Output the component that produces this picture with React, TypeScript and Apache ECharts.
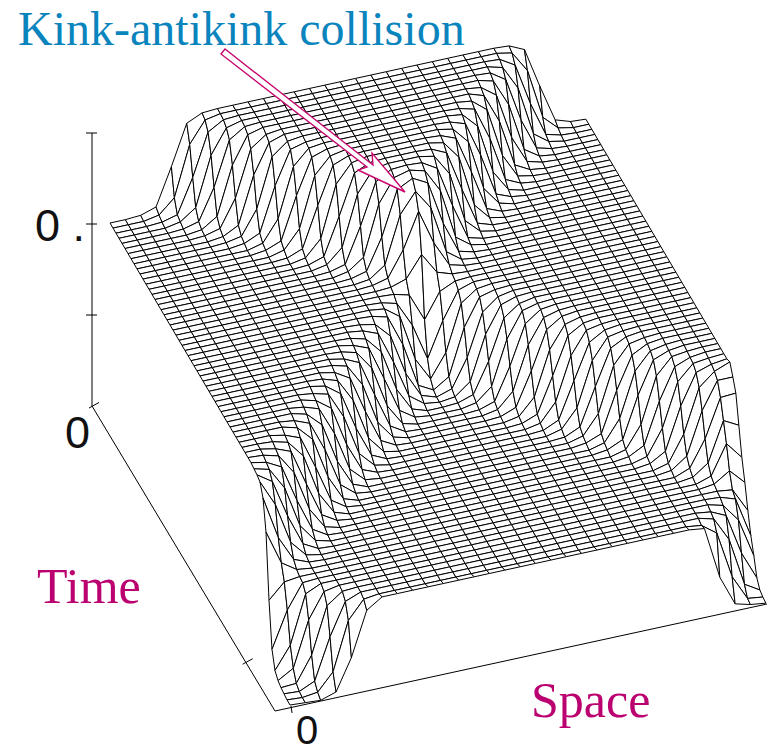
import React, { useEffect, useRef } from "react";
import * as echarts from "echarts";

// Height of the surface, one list per time step (back to front), 32 space samples each.
const heights: number[][] = [
[178,178,179,184,221,261,268,269,269,269,269,269,269,269,269,269,269,269,269,269,269,269,269,269,269,269,268,261,221,184,179,178],
[178,178,178,181,195,245,266,269,269,269,269,269,269,269,269,269,269,269,269,269,269,269,269,269,269,269,266,245,195,181,178,178],
[178,178,178,179,183,217,259,268,269,269,269,269,269,269,269,269,269,269,269,269,269,269,269,269,269,268,259,217,183,179,178,178],
[178,178,178,178,181,192,241,265,269,269,269,269,269,269,269,269,269,269,269,269,269,269,269,269,269,265,241,192,181,178,178,178],
[178,178,178,178,179,183,214,258,268,269,269,269,269,269,269,269,269,269,269,269,269,269,269,269,268,258,214,183,179,178,178,178],
[178,178,178,178,178,180,190,238,265,269,269,269,269,269,269,269,269,269,269,269,269,269,269,269,265,238,190,180,178,178,178,178],
[178,178,178,178,178,179,183,210,256,267,269,269,269,269,269,269,269,269,269,269,269,269,269,267,256,210,183,179,178,178,178,178],
[178,178,178,178,178,178,180,188,235,264,269,269,269,269,269,269,269,269,269,269,269,269,269,264,235,188,180,178,178,178,178,178],
[178,178,178,178,178,178,179,182,206,255,267,269,269,269,269,269,269,269,269,269,269,269,267,255,206,182,179,178,178,178,178,178],
[178,178,178,178,178,178,178,180,187,231,264,268,269,269,269,269,269,269,269,269,269,268,264,231,187,180,178,178,178,178,178,178],
[178,178,178,178,178,178,178,178,182,203,252,267,269,269,269,269,269,269,269,269,269,267,252,203,182,178,178,178,178,178,178,178],
[178,178,178,178,178,178,178,178,180,186,228,263,268,269,269,269,269,269,269,269,268,263,228,186,180,178,178,178,178,178,178,178],
[178,178,178,178,178,178,178,178,178,182,200,250,266,269,269,269,269,269,269,269,266,250,200,182,178,178,178,178,178,178,178,178],
[178,178,178,178,178,178,178,178,178,179,185,225,262,268,269,269,269,269,269,268,262,225,185,179,178,178,178,178,178,178,178,178],
[178,178,178,178,178,178,178,178,178,178,181,197,248,266,269,269,269,269,269,266,248,197,181,178,178,178,178,178,178,178,178,178],
[178,178,178,178,178,178,178,178,178,178,179,184,221,261,268,269,269,269,268,261,221,184,179,178,178,178,178,178,178,178,178,178],
[178,178,178,178,178,178,178,178,178,178,178,181,195,245,266,269,269,269,266,245,195,181,178,178,178,178,178,178,178,178,178,178],
[178,178,178,178,178,178,178,178,178,178,178,179,183,218,259,268,269,268,259,218,183,179,178,178,178,178,178,178,178,178,178,178],
[178,178,178,178,178,178,178,178,178,178,178,178,181,192,242,265,269,265,242,192,181,178,178,178,178,178,178,178,178,178,178,178],
[178,178,178,178,178,178,178,178,178,178,178,178,179,183,214,258,266,258,214,183,179,178,178,178,178,178,178,178,178,178,178,178],
[178,178,178,178,178,178,178,178,178,178,178,178,178,180,191,238,258,238,191,180,178,178,178,178,178,178,178,178,178,178,178,178],
[178,178,178,178,178,178,178,178,178,178,178,178,178,179,183,208,243,208,183,179,178,178,178,178,178,178,178,178,178,178,178,178],
[178,178,178,178,178,178,178,178,178,178,178,178,178,178,179,184,205,184,179,178,178,178,178,178,178,178,178,178,178,178,178,178],
[178,178,178,178,178,178,178,178,178,178,178,178,178,178,177,173,145,170,177,178,178,178,178,178,178,178,178,178,178,178,178,178],
[178,178,178,178,178,178,178,178,178,178,178,178,178,177,173,148,111,146,173,178,178,178,178,178,178,178,178,178,178,178,178,178],
[178,178,178,178,178,178,178,178,178,178,178,178,178,176,165,119,96,119,165,176,178,178,178,178,178,178,178,178,178,178,178,178],
[178,178,178,178,178,178,178,178,178,178,178,178,177,173,142,98,90,100,146,173,177,178,178,178,178,178,178,178,178,178,178,178],
[178,178,178,178,178,178,178,178,178,178,178,177,174,159,118,93,88,93,121,163,175,178,178,178,178,178,178,178,178,178,178,178],
[178,178,178,178,178,178,178,178,178,178,178,176,170,138,101,90,88,90,102,146,172,177,178,178,178,178,178,178,178,178,178,178],
[178,178,178,178,178,178,178,178,178,178,177,173,157,116,93,88,88,89,94,124,164,175,178,178,178,178,178,178,178,178,178,178],
[178,178,178,178,178,178,178,178,178,178,175,169,135,100,90,88,88,88,91,104,148,173,177,178,178,178,178,178,178,178,178,178],
[178,178,178,178,178,178,178,178,178,177,173,154,113,92,88,88,88,88,89,94,126,165,176,178,178,178,178,178,178,178,178,178],
[178,178,178,178,178,178,178,178,178,175,168,132,98,89,88,88,88,88,88,91,106,149,173,177,178,178,178,178,178,178,178,178],
[178,178,178,178,178,178,178,178,177,173,151,110,92,88,88,88,88,88,88,89,95,128,166,176,178,178,178,178,178,178,178,178],
[178,178,178,178,178,178,178,178,175,166,129,97,89,88,88,88,88,88,88,88,91,107,151,173,177,178,178,178,178,178,178,178],
[178,178,178,178,178,178,178,177,172,149,108,91,88,88,88,88,88,88,88,88,89,95,130,167,176,178,178,178,178,178,178,178],
[178,178,178,178,178,178,178,175,164,126,96,89,88,88,88,88,88,88,88,88,88,91,109,152,174,177,178,178,178,178,178,178],
[178,178,178,178,178,178,176,172,146,106,91,88,88,88,88,88,88,88,88,88,88,89,96,132,167,176,178,178,178,178,178,178],
[178,178,178,178,178,178,174,163,123,95,89,88,88,88,88,88,88,88,88,88,88,88,92,110,154,174,177,178,178,178,178,178],
[178,178,178,178,178,176,171,143,104,90,88,88,88,88,88,88,88,88,88,88,88,88,89,96,133,168,176,178,178,178,178,178],
[178,178,178,178,178,174,160,120,94,88,88,88,88,88,88,88,88,88,88,88,88,88,88,92,111,156,174,177,178,178,178,178],
[178,178,178,178,176,170,140,102,90,88,88,88,88,88,88,88,88,88,88,88,88,88,88,90,96,136,168,176,178,178,178,178],
[178,178,178,178,174,159,118,93,88,88,88,88,88,88,88,88,88,88,88,88,88,88,88,88,92,113,157,174,177,178,178,178],
[178,178,178,175,169,136,100,90,88,88,88,88,88,88,88,88,88,88,88,88,88,88,88,88,90,97,138,170,176,178,178,178],
[178,178,177,173,156,115,93,88,88,88,88,88,88,88,88,88,88,88,88,88,88,88,88,88,88,92,114,159,175,177,178,178],
[178,178,175,169,133,99,90,88,88,88,88,88,88,88,88,88,88,88,88,88,88,88,88,88,88,90,98,139,170,176,178,178],
[178,177,173,153,113,92,88,88,88,88,88,88,88,88,88,88,88,88,88,88,88,88,88,88,88,88,92,117,160,175,177,178],
[178,175,167,130,98,89,88,88,88,88,88,88,88,88,88,88,88,88,88,88,88,88,88,88,88,88,90,99,141,171,176,178],
[177,173,151,110,92,88,88,88,88,88,88,88,88,88,88,88,88,88,88,88,88,88,88,88,88,88,88,92,118,161,174,180],
[176,166,128,97,89,88,88,88,88,88,88,88,88,88,88,88,88,88,88,88,88,88,88,88,88,88,88,90,101,143,170,170],
[174,148,107,91,88,88,88,88,88,88,88,88,88,88,88,88,88,88,88,88,88,88,88,88,88,88,88,88,94,120,158,159],
[163,120,95,89,88,88,88,88,88,88,88,88,88,88,88,88,88,88,88,88,88,88,88,88,88,88,88,88,90,101,140,132],
[134,100,90,88,88,88,88,88,88,88,88,88,88,88,88,88,88,88,88,88,88,88,88,88,88,88,88,88,88,93,122,105],
[71,86,88,88,88,88,88,88,88,88,88,88,88,88,88,88,88,88,88,88,88,88,88,88,88,88,88,88,88,90,100,85],
[27,63,87,88,88,88,88,88,88,88,88,88,88,88,88,88,88,88,88,88,88,88,88,88,88,88,88,88,88,88,86,62],
[11,33,81,88,88,88,88,88,88,88,88,88,88,88,88,88,88,88,88,88,88,88,88,88,88,88,88,88,88,87,82,42],
[6,15,60,85,88,88,88,88,88,88,88,88,88,88,88,88,88,88,88,88,88,88,88,88,88,88,88,88,88,84,66,27],
[4,5,30,76,87,88,88,88,88,88,88,88,88,88,88,88,88,88,88,88,88,88,88,88,88,88,88,88,86,79,38,10],
[3,2,9,50,82,88,88,88,88,88,88,88,88,88,88,88,88,88,88,88,88,88,88,88,88,88,88,88,84,60,12,3],
[2,1,3,20,68,86,88,88,88,88,88,88,88,88,88,88,88,88,88,88,88,88,88,88,88,88,88,86,75,28,3,1],
[2,1,0,5,36,80,90,90,90,90,90,90,90,90,90,90,90,90,90,90,90,90,90,90,90,90,90,88,36,6,2,0],
];

const heightTicks = [0, 91, 182, 273];
const timeTicks = [0, 0.84];
const titleText = "Kink-antikink collision";
const timeLabel = "Time";
const spaceLabel = "Space";

const INK = "#000";
const TEAL = "#0a84bd";
const MAGENTA = "#bb0070";

// Oblique projection of (space index, time index, height) onto the page.
function project(c: number, r: number, z: number): [number, number] {
  return [110 + 15.35 * c + 3 * r, 401 - 3.35 * c + 5.1 * r - z];
}

const cells: number[][] = [];
for (let r = 0; r < heights.length - 1; r++) {
  for (let c = 0; c < heights[r].length - 1; c++) cells.push([r, c]);
}

const ORIGIN: [number, number] = [92, 406];
const TIME_END: [number, number] = [275, 711];
const SPACE_END: [number, number] = [767, 604];

export default function App() {
  const ref = useRef<HTMLDivElement>(null);
  useEffect(() => {
    if (!ref.current) return;
    const chart = echarts.init(ref.current, undefined, { renderer: "svg" });
    const hidden = { show: false };
    chart.setOption({
      animation: false,
      grid: { left: 0, right: 0, top: 0, bottom: 0 },
      xAxis: { type: "value", min: 0, max: 770, axisLine: hidden, axisTick: hidden, axisLabel: hidden, splitLine: hidden },
      yAxis: { type: "value", min: 0, max: 754, inverse: true, axisLine: hidden, axisTick: hidden, axisLabel: hidden, splitLine: hidden },
      series: [
        {
          type: "custom",
          silent: true,
          clip: false,
          coordinateSystem: "cartesian2d",
          data: [[0, 0]],
          renderItem: (_p: any, api: any) => {
            const seg = (a: number[], b: number[]) => ({
              type: "line",
              shape: { x1: api.coord(a)[0], y1: api.coord(a)[1], x2: api.coord(b)[0], y2: api.coord(b)[1] },
              style: { stroke: INK, lineWidth: 1 },
            });
            const children: any[] = [];
            const top = heightTicks[heightTicks.length - 1];
            children.push(seg(ORIGIN, [ORIGIN[0], ORIGIN[1] - top]));
            heightTicks.slice(1).forEach((h) => {
              children.push(seg([ORIGIN[0] - 6, ORIGIN[1] - h], [ORIGIN[0] + 5, ORIGIN[1] - h]));
            });
            children.push(seg(ORIGIN, TIME_END));
            children.push(seg(TIME_END, SPACE_END));
            timeTicks.forEach((t) => {
              const x = ORIGIN[0] + (TIME_END[0] - ORIGIN[0]) * t;
              const y = ORIGIN[1] + (TIME_END[1] - ORIGIN[1]) * t;
              children.push(seg([x - 3, y + 2], [x + 7, y - 3.5]));
            });
            children.push(seg([291, 706], [292, 713]));
            return { type: "group", children };
          },
        },
        {
          type: "custom",
          silent: true,
          clip: false,
          progressive: 0,
          coordinateSystem: "cartesian2d",
          dimensions: ["r", "c"],
          data: cells,
          renderItem: (_p: any, api: any) => {
            const r = api.value(0);
            const c = api.value(1);
            const corners = [
              [c, r],
              [c + 1, r],
              [c + 1, r + 1],
              [c, r + 1],
            ];
            const points = corners.map(([cc, rr]) => api.coord(project(cc, rr, heights[rr][cc])));
            return {
              type: "polygon",
              shape: { points },
              style: { fill: "#fff", stroke: INK, lineWidth: 1, lineJoin: "round" },
            };
          },
        },
      ],
      graphic: [
        {
          type: "polygon",
          z: 100,
          shape: {
            points: [
              [221, 54],
              [225, 49],
              [373, 165],
              [372, 153],
              [405, 192],
              [358, 170],
              [367, 167],
            ],
          },
          style: { fill: "#fff", stroke: "#c8086f", lineWidth: 1.4 },
        },
        { type: "text", z: 101, x: 18, y: 28, style: { text: titleText, fontFamily: "Liberation Serif", fontSize: 48, fill: TEAL, verticalAlign: "middle" } },
        { type: "text", z: 101, x: 37, y: 586, style: { text: timeLabel, fontFamily: "Liberation Serif", fontSize: 50, fill: MAGENTA, verticalAlign: "middle" } },
        { type: "text", z: 101, x: 531, y: 700, style: { text: spaceLabel, fontFamily: "Liberation Serif", fontSize: 50, fill: MAGENTA, verticalAlign: "middle" } },
        { type: "text", z: 101, x: 35, y: 225, style: { text: "0 .", fontFamily: "Liberation Sans", fontSize: 45, fill: "#111", verticalAlign: "middle" } },
        { type: "text", z: 101, x: 65, y: 432, style: { text: "0", fontFamily: "Liberation Sans", fontSize: 45, fill: "#111", verticalAlign: "middle" } },
        { type: "text", z: 101, x: 296, y: 730, style: { text: "0", fontFamily: "Liberation Sans", fontSize: 40, fill: "#111", verticalAlign: "middle" } },
      ],
    });
    return () => chart.dispose();
  }, []);
  return <div ref={ref} style={{ position: "absolute", left: 0, top: 0, width: 770, height: 754 }} />;
}
